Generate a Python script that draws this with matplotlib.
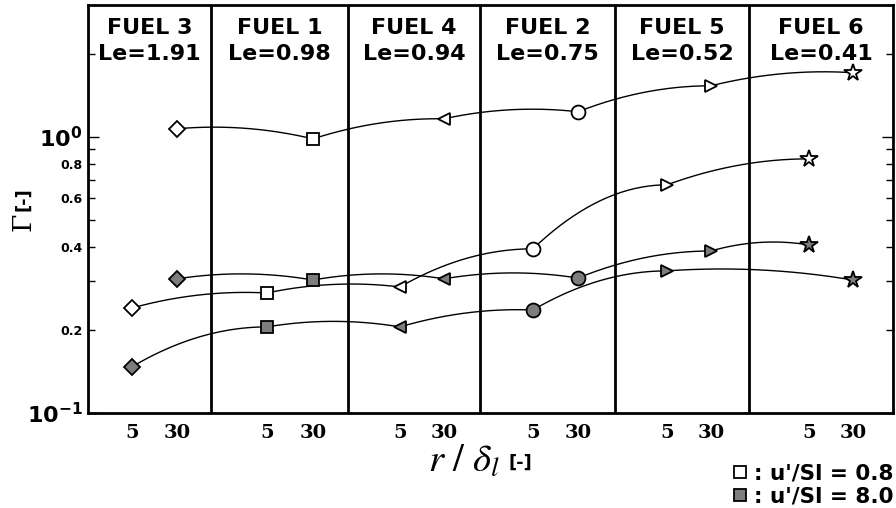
#!/usr/bin/env python3
"""Stretch factor Gamma versus r/delta_l for six fuels, two turbulence levels."""

import matplotlib

matplotlib.use("Agg")
import matplotlib.pyplot as plt
import numpy as np
from matplotlib.lines import Line2D

FUELS = ["FUEL 3", "FUEL 1", "FUEL 4", "FUEL 2", "FUEL 5", "FUEL 6"]
LEWIS = ["1.91", "0.98", "0.94", "0.75", "0.52", "0.41"]
MARKERS = ["D", "s", "<", "o", ">", "*"]
R_DELTA = ["5", "30"]

# Gamma, one value per fuel
GAMMA_LOW_5 = [0.240, 0.272, 0.286, 0.393, 0.670, 0.832]
GAMMA_LOW_30 = [1.069, 0.983, 1.162, 1.232, 1.530, 1.706]
GAMMA_HIGH_5 = [0.147, 0.205, 0.205, 0.236, 0.327, 0.406]
GAMMA_HIGH_30 = [0.306, 0.303, 0.306, 0.308, 0.386, 0.303]

# which r/delta_l point (0 -> 5, 1 -> 30) each drawn curve goes through, fuel by fuel
CURVES = [
    ("low", [1, 1, 1, 1, 1, 1]),
    ("low", [0, 0, 0, 0, 0, 0]),
    ("high", [1, 1, 1, 1, 1, 0]),
    ("high", [0, 0, 0, 0, 0, 1]),
]

# horizontal layout of the panels (axis units)
PANEL_EDGES = [0, 123, 260, 392, 527, 661, 805]
X_AT_5 = [44, 179, 312, 445, 579, 721]
X_AT_30 = [89, 225, 356, 490, 623, 765]

GRAY = "#7d7d7d"


def bowed_segments(x, logy, bow=0.04, n=60):
    """Join consecutive points with quadratic arcs; flat steps bulge a little upward."""
    t = np.linspace(0.0, 1.0, n)
    xs, ys = [], []
    for i in range(len(x) - 1):
        x0, x1 = x[i], x[i + 1]
        y0, y1 = logy[i], logy[i + 1]
        lift = bow * max(0.0, 1.0 - abs(y1 - y0) / 0.08)
        cx = 0.5 * (x0 + x1)
        cy = max(y0, y1) + lift
        xs.append((1 - t) ** 2 * x0 + 2 * t * (1 - t) * cx + t**2 * x1)
        ys.append((1 - t) ** 2 * y0 + 2 * t * (1 - t) * cy + t**2 * y1)
    return np.concatenate(xs), np.concatenate(ys)


def main():
    fig = plt.figure(figsize=(8.96, 5.08), dpi=100, facecolor="white")
    ax = fig.add_axes([88 / 896, 95 / 508, 805 / 896, 408 / 508])
    ax.set_yscale("log")
    ax.set_xlim(PANEL_EDGES[0], PANEL_EDGES[-1])
    ax.set_ylim(0.1, 3.0)

    values = {"low": (GAMMA_LOW_5, GAMMA_LOW_30), "high": (GAMMA_HIGH_5, GAMMA_HIGH_30)}
    positions = (X_AT_5, X_AT_30)

    for level, picks in CURVES:
        xs = [positions[p][i] for i, p in enumerate(picks)]
        ys = [values[level][p][i] for i, p in enumerate(picks)]
        sx, sy = bowed_segments(xs, np.log10(ys))
        ax.plot(sx, 10**sy, color="black", lw=1.0, zorder=2)

    for level, face in (("low", "white"), ("high", GRAY)):
        for k in range(2):
            for i, marker in enumerate(MARKERS):
                size = {"*": 13, "o": 10, "D": 8}.get(marker, 9)
                ax.plot(positions[k][i], values[level][k][i], marker=marker, ls="",
                        ms=size, mfc=face, mec="black", mew=1.3, zorder=3)

    for edge in PANEL_EDGES[1:-1]:
        ax.axvline(edge, color="black", lw=2.0, zorder=1)

    for i, (fuel, le) in enumerate(zip(FUELS, LEWIS)):
        xc = 0.5 * (PANEL_EDGES[i] + PANEL_EDGES[i + 1])
        ax.text(xc, 0.929, fuel, transform=ax.get_xaxis_transform(), ha="center", va="baseline",
                fontsize=16, fontweight="bold", family="DejaVu Sans")
        ax.text(xc, 0.865, f"Le={le}", transform=ax.get_xaxis_transform(), ha="center", va="baseline",
                fontsize=16, fontweight="bold", family="DejaVu Sans")

    for side in ax.spines.values():
        side.set_linewidth(2.0)

    ax.set_yticks([0.1, 1.0])
    ax.set_yticklabels([r"$\mathbf{10^{-1}}$", r"$\mathbf{10^{0}}$"], fontsize=16)
    minor = [0.2, 0.3, 0.4, 0.5, 0.6, 0.7, 0.8, 0.9, 2.0]
    ax.set_yticks(minor, minor=True)
    ax.set_yticklabels(["0.2", "", "0.4", "", "0.6", "", "0.8", "", ""], minor=True,
                       fontsize=9, fontweight="bold")
    ax.tick_params(axis="y", which="both", direction="in", right=True, pad=4, width=1.0)
    ax.tick_params(axis="y", which="major", length=8)
    ax.tick_params(axis="y", which="minor", length=5)

    ax.set_xticks(X_AT_5 + X_AT_30)
    ax.set_xticklabels([R_DELTA[0]] * 6 + [R_DELTA[1]] * 6, fontsize=14, fontweight="bold",
                       family="DejaVu Serif")
    ax.tick_params(axis="x", length=0, pad=8)

    fig.text(500 / 896, 1 - 472 / 508, r"$r\ /\ \delta_l$", ha="right", va="baseline",
             fontsize=28, math_fontfamily="stix")
    fig.text(508 / 896, 1 - 463 / 508, "[-]", ha="left", va="center", fontsize=13,
             fontweight="bold")
    fig.text(23 / 896, 1 - 222 / 508, "Γ", rotation=90, ha="center", va="center",
             fontsize=19, family="DejaVu Serif")
    fig.text(23 / 896, 1 - 199 / 508, "[-]", rotation=90, ha="center", va="center",
             fontsize=13, fontweight="bold")

    handles = [
        Line2D([], [], marker="s", ls="", ms=9, mfc="white", mec="black", mew=1.3,
               label=": u'/Sl = 0.8"),
        Line2D([], [], marker="s", ls="", ms=9, mfc=GRAY, mec="black", mew=1.3,
               label=": u'/Sl = 8.0"),
    ]
    fig.legend(handles=handles, loc="lower right", bbox_to_anchor=(893 / 896, 1 / 508),
               frameon=False, borderpad=0, borderaxespad=0, handlelength=0.6,
               handletextpad=0.35, labelspacing=0.18, prop={"size": 15.5, "weight": "bold"})

    fig.savefig("out.png", dpi=100, facecolor="white")
    plt.close(fig)


if __name__ == "__main__":
    main()
